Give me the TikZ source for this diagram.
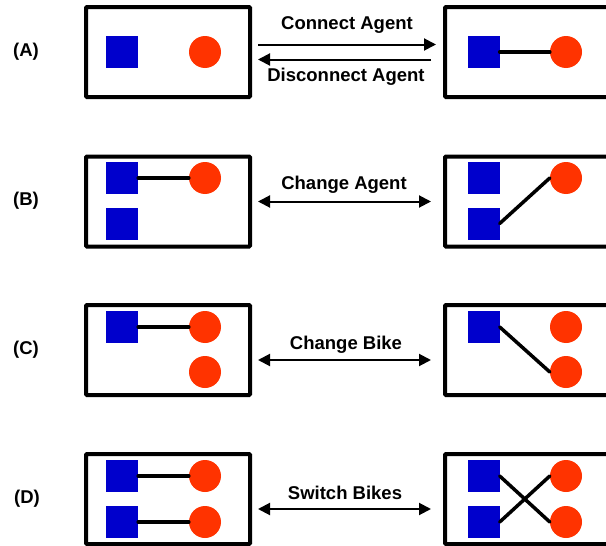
\documentclass[tikz,border=0pt]{standalone}
\usepackage{fontspec}
\setmainfont{Liberation Sans}
\usetikzlibrary{arrows.meta}
\definecolor{agentblue}{RGB}{0,0,204}
\definecolor{bikered}{RGB}{255,51,0}
\tikzset{
  panel/.style={draw=black, line width=4pt, minimum height=90pt, inner sep=0pt, rounded corners=1pt},
  leftpanel/.style={panel, minimum width=164pt},
  rightpanel/.style={panel, minimum width=200pt},
  agent/.style={fill=agentblue, minimum size=32pt, inner sep=0pt},
  bike/.style={circle, fill=bikered, minimum size=32pt, inner sep=0pt},
  link/.style={line width=3.5pt, line cap=round},
  action/.style={line width=2pt, -{Triangle[length=12pt,width=12pt]}},
  twoway/.style={line width=2pt, {Triangle[length=12pt,width=12pt]}-{Triangle[length=12pt,width=12pt]}},
  caption/.style={font=\fontsize{18.5}{21}\selectfont\bfseries, inner sep=0pt},
  tag/.style={font=\fontsize{18.5}{21}\selectfont\bfseries, inner sep=0pt}
}
\begin{document}
\begin{tikzpicture}[x=1pt,y=-1pt]
\clip (0,0) rectangle (606,546);
\fill[white] (0,0) rectangle (606,546);

% ---------- (A) connect / disconnect ----------
\node[tag] (tA) at (26,52) {(A)};
\node[leftpanel] (pAl) at (168,52) {};
\node[rightpanel] (pAr) at (545,52) {};
\node[agent] (aAl) at (122,52) {};
\node[bike] (bAl) at (205,52) {};
\node[agent] (aAr) at (483.5,52) {};
\node[bike] (bAr) at (566,52) {};
\draw[link] (aAr.east) -- (bAr.west);
\draw[action, shorten <=6pt, shorten >=7pt] ([yshift=7.5pt]pAl.east) -- ([yshift=7.5pt]pAr.west);
\draw[action, shorten <=12pt, shorten >=6pt] ([yshift=-7.5pt]pAr.west) -- ([yshift=-7.5pt]pAl.east);
\node[caption] (cA1) at (347,25) {Connect Agent};
\node[caption] (cA2) at (346,77) {Disconnect Agent};

% ---------- (B) change agent ----------
\node[tag] (tB) at (26,201) {(B)};
\node[leftpanel] (pBl) at (168,201.5) {};
\node[rightpanel] (pBr) at (545,201.5) {};
\node[agent] (aBl1) at (122,178) {};
\node[agent] (aBl2) at (122,223.5) {};
\node[bike] (bBl) at (205,178) {};
\node[agent] (aBr1) at (483.5,178) {};
\node[agent] (aBr2) at (483.5,223.5) {};
\node[bike] (bBr) at (566,178) {};
\draw[link] (aBl1.east) -- (bBl.west);
\draw[link] (aBr2.east) -- (bBr.west);
\draw[twoway, shorten <=6pt, shorten >=12pt] (pBl.east) -- (pBr.west);
\node[caption] (cB) at (344,185) {Change Agent};

% ---------- (C) change bike ----------
\node[tag] (tC) at (26,350) {(C)};
\node[leftpanel] (pCl) at (168,350) {};
\node[rightpanel] (pCr) at (545,350) {};
\node[agent] (aCl) at (122,327) {};
\node[bike] (bCl1) at (205,327) {};
\node[bike] (bCl2) at (205,372) {};
\node[agent] (aCr) at (483.5,327) {};
\node[bike] (bCr1) at (566,327) {};
\node[bike] (bCr2) at (566,372) {};
\draw[link] (aCl.east) -- (bCl1.west);
\draw[link] (aCr.east) -- (bCr2.west);
\draw[twoway, shorten <=6pt, shorten >=12pt] ([yshift=-10pt]pCl.east) -- ([yshift=-10pt]pCr.west);
\node[caption] (cC) at (346,345) {Change Bike};

% ---------- (D) switch bikes ----------
\node[tag] (tD) at (27,499) {(D)};
\node[leftpanel] (pDl) at (168,499) {};
\node[rightpanel] (pDr) at (545,499) {};
\node[agent] (aDl1) at (122,476) {};
\node[agent] (aDl2) at (122,522) {};
\node[bike] (bDl1) at (205,476) {};
\node[bike] (bDl2) at (205,522) {};
\node[agent] (aDr1) at (483.5,476) {};
\node[agent] (aDr2) at (483.5,522) {};
\node[bike] (bDr1) at (566,476) {};
\node[bike] (bDr2) at (566,522) {};
\draw[link] (aDl1.east) -- (bDl1.west);
\draw[link] (aDl2.east) -- (bDl2.west);
\draw[link] (aDr1.east) -- (bDr2.west);
\draw[link] (aDr2.east) -- (bDr1.west);
\draw[twoway, shorten <=6pt, shorten >=12pt] ([yshift=-10pt]pDl.east) -- ([yshift=-10pt]pDr.west);
\node[caption] (cD) at (345,493) {Switch Bikes};
\end{tikzpicture}
\end{document}
